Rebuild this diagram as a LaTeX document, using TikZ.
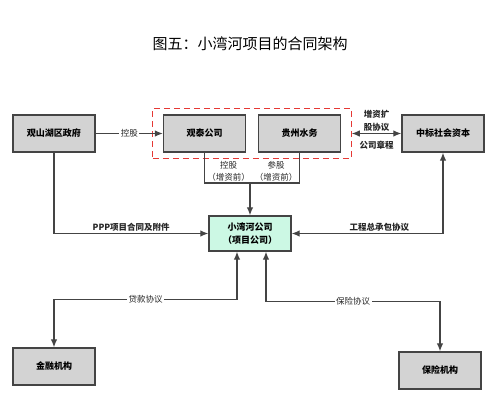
\documentclass[tikz,border=0pt]{standalone}
\usepackage{fontspec}
\setmainfont{Noto Sans CJK SC}
\usepackage{tikz}
\usetikzlibrary{arrows.meta,positioning,fit}
\definecolor{boxgray}{HTML}{D3D3D3}
\definecolor{boxgreen}{HTML}{CCF8E4}
\definecolor{boxline}{HTML}{444444}
\definecolor{dashred}{HTML}{E53935}

\begin{document}
\begin{tikzpicture}[on grid,>={Latex[length=8pt,width=6.5pt]},
  party/.style={draw=boxline,fill=boxgray,line width=1.3pt,minimum width=82pt,minimum height=37pt,font=\fontsize{9pt}{11pt}\selectfont\bfseries},
  project/.style={party,fill=boxgreen,minimum height=35pt,align=center,font=\fontsize{9pt}{13pt}\selectfont\bfseries},
  group/.style={draw=dashred,line width=1.2pt,dash pattern=on 6pt off 4pt,inner xsep=10pt,inner ysep=6pt},
  lbl/.style={font=\fontsize{8.5pt}{12.5pt}\selectfont,text=black!85,inner sep=1.5pt},
  boldlbl/.style={lbl,font=\fontsize{8.5pt}{12.5pt}\selectfont\bfseries},
  link/.style={draw=boxline,line width=1.2pt}]
\useasboundingbox (0,0) rectangle (501pt,-406pt);
\node[font=\fontsize{15pt}{18pt}\selectfont] (ttl) at (250pt,-44pt) {图五：小湾河项目的合同架构};
\node[party] (gov) at (54pt,-133.5pt) {观山湖区政府};
\node[party] (guantai) [right=150.5pt of gov] {观泰公司};
\node[party] (guizhou) [right=95pt of guantai] {贵州水务};
\node[party] (zhongbiao) [right=143.5pt of guizhou] {中标社会资本};
\node[project] (xiaowan) at (250pt,-233.5pt) {小湾河公司\\（项目公司）};
\node[party] (jinrong) [below=233pt of gov] {金融机构};
\node[party] (baoxian) [below right=237pt and -3pt of zhongbiao] {保险机构};
\node[group,fit=(guantai)(guizhou)] (jv) {};
\coordinate (jn) at (250pt,-183pt);
\node[lbl,align=center] (kglbl) at (228.5pt,-171.5pt) {控股\\（增资前）};
\node[lbl,align=center] (cglbl) at (276pt,-171.5pt) {参股\\（增资前）};
\draw[link,->] (gov) -- node[lbl,fill=white] {控股} (guantai);
\draw[link,->] (gov) |- node[boldlbl,above,pos=0.75] {PPP项目合同及附件} (xiaowan);
\draw[link] (guantai) |- (jn) -| (guizhou);
\draw[link,->] (jn) -- (xiaowan);
\draw[link,<->] (jv) -- node[boldlbl,above,align=center] {增资扩\\股协议}
  node[boldlbl,below=6pt] {公司章程} (zhongbiao);
\draw[link,<->] (xiaowan) -| node[boldlbl,above,pos=0.29] {工程总承包协议} (zhongbiao);
\draw[link,<->] ([xshift=-13pt]xiaowan.south) -- ++(0,-48pt) -| node[lbl,fill=white,pos=0.25] {贷款协议} (jinrong);
\draw[link,<->] ([xshift=16pt]xiaowan.south) -- ++(0,-50pt) -| node[lbl,fill=white,pos=0.25] {保险协议} (baoxian);
\end{tikzpicture}
\end{document}
